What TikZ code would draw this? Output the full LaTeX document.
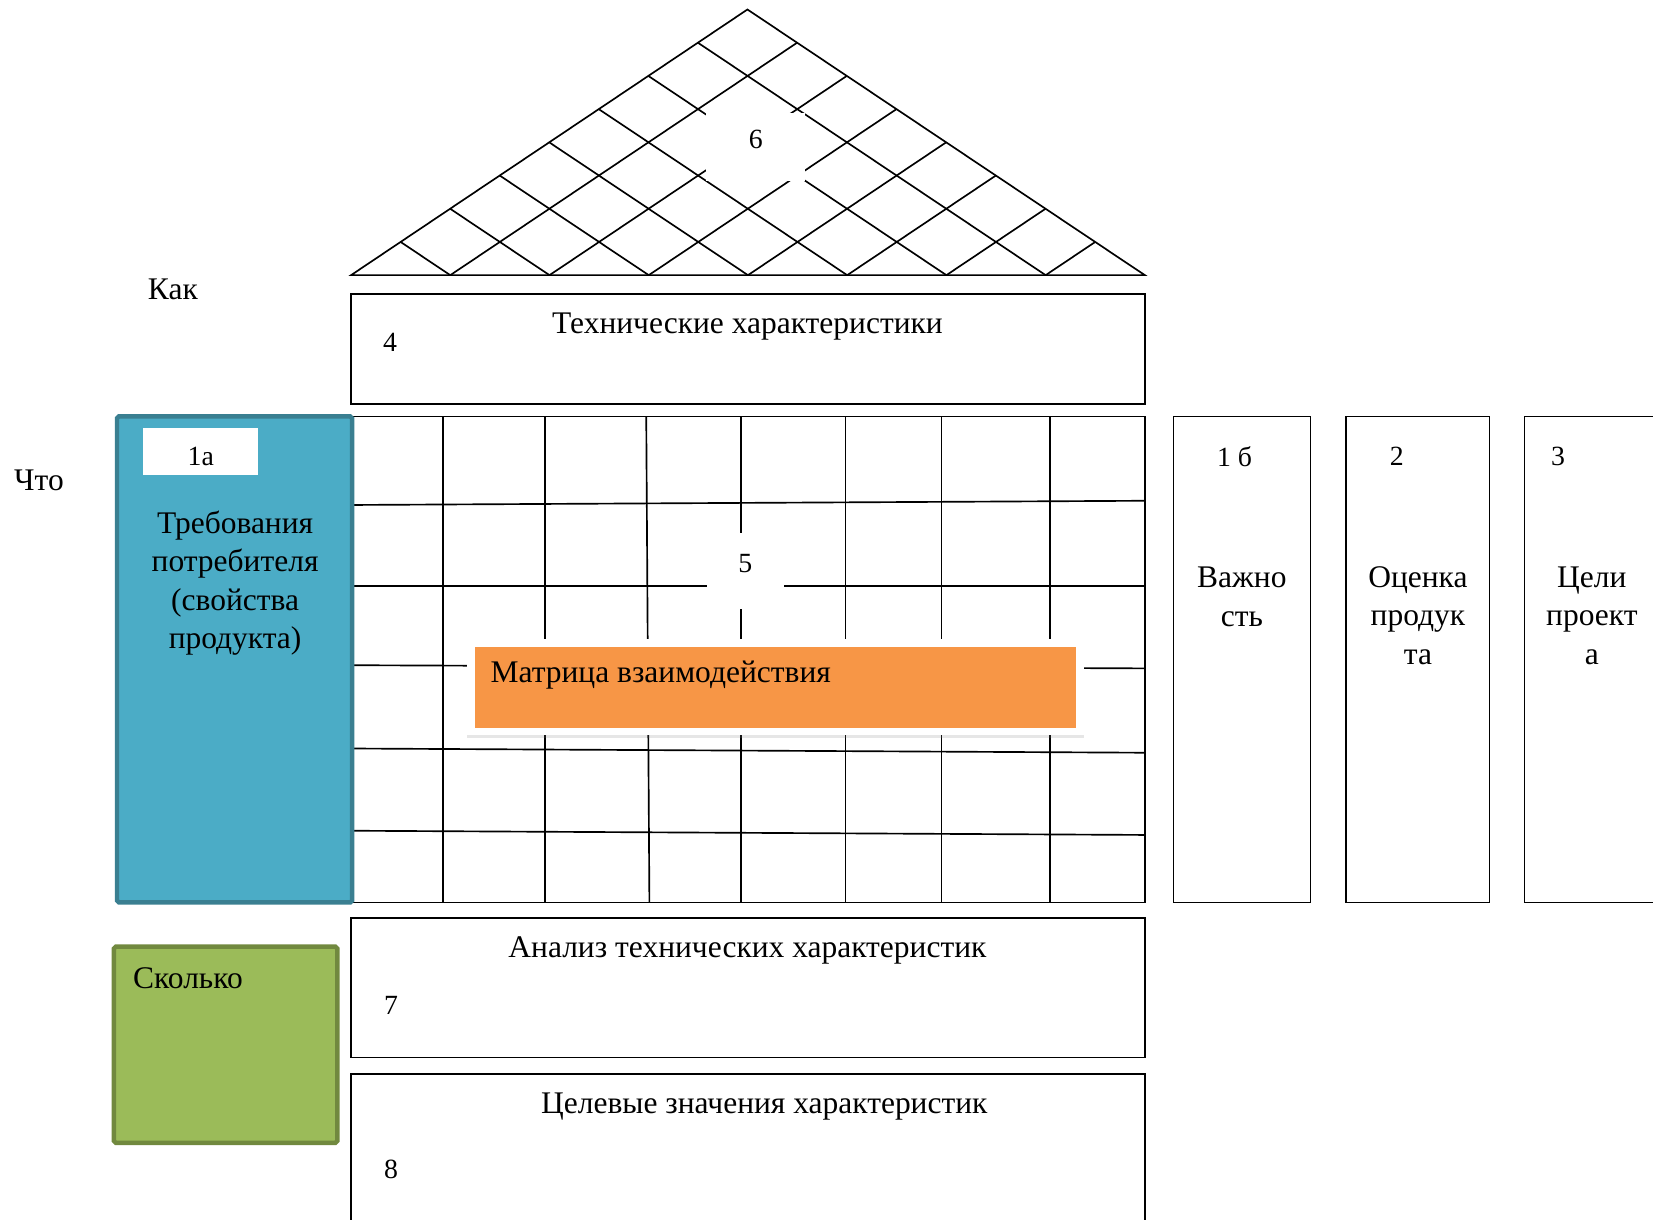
\documentclass[tikz,border=0pt]{standalone}
\usepackage{fontspec}
\setmainfont{Liberation Serif}
\usetikzlibrary{calc,shadows}

\definecolor{reqblue}{HTML}{4BACC6}
\definecolor{reqblueline}{HTML}{3A7F91}
\definecolor{howgreen}{HTML}{9BBB59}
\definecolor{howgreenline}{HTML}{71893F}
\definecolor{matorange}{HTML}{F79646}

\begin{document}
\begin{tikzpicture}[x=0.02cm,y=-0.02cm,
    txt/.style={font=\fontsize{17}{20.8}\selectfont,inner sep=0pt},
    num/.style={font=\fontsize{15}{18}\selectfont,inner sep=0pt},
    cell/.style={line width=0.9pt}]

        \useasboundingbox (0,0) rectangle (1568,1157);
        \clip (0,0) rectangle (1568,1157);

        % Roof (correlation matrix)
        \coordinate (apex) at (709,9);
        \coordinate (roofL) at (333,261);
        \coordinate (roofR) at (1086,261);
        \draw[cell] (roofL) -- (apex) -- (roofR) -- cycle;
        \foreach \i in {1,...,7}{
            \pgfmathsetmacro{\t}{\i/8}
            \pgfmathsetmacro{\s}{1-\i/8}
            \draw[cell] ($(roofL)!\t!(roofR)$) -- ($(roofR)!\s!(apex)$);
            \draw[cell] ($(roofL)!\t!(roofR)$) -- ($(roofL)!\t!(apex)$);
        }
        \fill[white] (670,107) rectangle (764,172);
        \node[num] (roofnum) at (717,132) {6};

        % Side labels
        \node[txt] (how) at (164,274) {Как};
        \node[txt] (what) at (37,456) {Что};

        % Technical characteristics
        \draw[cell] (333,279) rectangle (1086,383);
        \node[txt] (techtitle) at (709,310) {Технические характеристики};
        \node[num] (technum) at (370,325) {4};

        % Matrix grid
        \draw[cell] (333,395) rectangle (1086,856);
        \foreach \xa/\xb in {420/420,517/517,613/616,703/703,802/802,893/893,996/996}
            \draw[cell] (\xa,395) -- (\xb,856);
        \foreach \ya/\yb in {479/475,556/556,631/634,710/714,788/792}
            \draw[cell] (333,\ya) -- (1086,\yb);
        \fill[white] (671,506) rectangle (744,578);
        \node[num] (matnum) at (707,535) {5};

        % Interaction matrix banner
        \fill[white,drop shadow={shadow xshift=0pt,shadow yshift=-0.06cm,opacity=0.2}] (443,606) rectangle (1028,697);
        \fill[matorange] (450.5,613.4) rectangle (1020.6,690.2);
        \node[txt,anchor=west] (mattitle) at (465,640) {Матрица взаимодействия};

        % Customer requirements
        \draw[fill=reqblue,draw=reqblueline,line width=2.4pt,rounded corners=1pt] (111,395) rectangle (334,856);
        \fill[white] (136,406) rectangle (245,451);
        \node[num] (reqnum) at (190.5,433) {1a};
        \node[txt,align=center] (reqtitle) at (223,553) {Требования\\потребителя\\(свойства\\продукта)};

        % How much
        \draw[fill=howgreen,draw=howgreenline,line width=2.4pt,rounded corners=1pt] (108,898) rectangle (320,1084);
        \node[txt,anchor=west] (howmuch) at (126,928) {Сколько};

        % Analysis and targets
        \draw[cell] (333,871) rectangle (1086,1003);
        \node[txt] (anltitle) at (709,902) {Анализ технических характеристик};
        \node[num] (anlnum) at (371,954) {7};
        \draw[cell] (333,1170) -- (333,1019) -- (1086,1019) -- (1086,1170);
        \node[txt] (tgttitle) at (725,1050) {Целевые значения характеристик};
        \node[num] (tgtnum) at (371,1109) {8};

        % Right columns
        \draw[cell] (1113,395) rectangle (1243,856);
        \node[num] (impnum) at (1171,433) {1 б};
        \node[txt,align=center] (imptitle) at (1178,566) {Важно\\сть};

        \draw[cell] (1277,395) rectangle (1413,856);
        \node[num] (evalnum) at (1325,433) {2};
        \node[txt,align=center] (evaltitle) at (1345,584) {Оценка\\продук\\та};

        \draw[cell] (1580,395) -- (1446,395) -- (1446,856) -- (1580,856);
        \node[num] (goalnum) at (1478,433) {3};
        \node[txt,align=center] (goaltitle) at (1510,584) {Цели\\проект\\а};

    \end{tikzpicture}
\end{document}
